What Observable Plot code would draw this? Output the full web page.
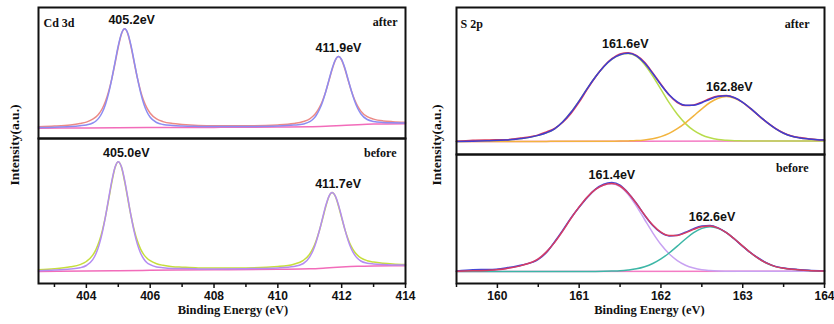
<!DOCTYPE html>
<html>
<head>
<meta charset="utf-8">
<script src="https://cdn.jsdelivr.net/npm/d3@7"></script>
<script src="https://cdn.jsdelivr.net/npm/@observablehq/plot@0.6"></script>
<style>
  body { margin: 0; background: #fff; }
  #chart { position: relative; width: 834px; height: 324px; overflow: hidden; background: #fff; }
  #chart svg { position: absolute; overflow: visible; }
  .ytitle {
    position: absolute; white-space: nowrap; color: #111;
    font: bold 13.5px "Liberation Serif", "Times New Roman", serif;
    transform: translate(-50%, -50%) rotate(-90deg);
  }
</style>
</head>
<body>
<div id="chart"></div>
<script>
// ---- Cd 3d spectra (binding energy in eV, intensity in a.u.) ----
const cdEnergy = [402.5, 403.0, 403.5, 403.8, 404.0, 404.2, 404.3, 404.4, 404.5, 404.6, 404.7, 404.8, 404.9,
  405.0, 405.1, 405.2, 405.3, 405.4, 405.5, 405.6, 405.7, 405.8, 405.9, 406.0, 406.2, 406.4, 406.7, 407.0,
  407.5, 408.0, 409.0, 410.0, 410.5, 410.8, 411.0, 411.1, 411.2, 411.3, 411.4, 411.5, 411.6, 411.7, 411.8,
  411.9, 412.0, 412.1, 412.2, 412.3, 412.4, 412.5, 412.6, 412.8, 413.0, 413.3, 413.6, 414.0];
const cdAfterRaw = [11.7, 12.4, 13.6, 15.0, 16.4, 19.3, 21.6, 25.0, 30.0, 37.2, 47.3, 60.2, 75.5, 91.5, 104.6,
  109.7, 104.6, 91.6, 75.6, 60.3, 47.4, 37.4, 30.3, 25.3, 19.6, 16.9, 15.0, 14.1, 13.1, 12.7, 12.7, 13.6,
  15.0, 17.0, 19.7, 22.2, 25.7, 30.8, 37.8, 46.8, 57.7, 68.9, 78.2, 81.9, 78.4, 69.5, 58.5, 48.0, 39.2,
  32.4, 27.4, 21.8, 19.4, 17.6, 16.8, 16.3];
const cdAfterFit = [11.0, 11.3, 12.0, 12.8, 13.6, 15.5, 17.5, 20.9, 26.2, 34.3, 45.6, 60.2, 76.6, 92.8, 105.0,
  109.7, 105.1, 92.9, 76.7, 60.3, 45.9, 34.5, 26.5, 21.2, 16.0, 14.0, 13.0, 12.5, 12.1, 11.9, 12.0, 12.5,
  13.4, 14.6, 16.8, 19.2, 23.0, 28.7, 36.6, 46.8, 58.4, 69.8, 78.5, 81.9, 78.8, 70.4, 59.3, 48.0, 38.1,
  30.3, 24.8, 19.0, 17.1, 16.1, 15.7, 15.5];
const cdBeforeRaw = [13.7, 14.7, 16.7, 18.9, 22.0, 28.3, 33.9, 41.9, 52.9, 67.1, 84.1, 101.6, 116.1, 121.8,
  116.2, 101.8, 84.3, 67.5, 53.3, 42.4, 34.4, 28.9, 25.3, 22.8, 19.8, 18.2, 16.8, 16.3, 15.6, 15.4, 15.6,
  17.0, 19.3, 23.2, 29.5, 35.1, 42.8, 52.7, 64.5, 76.7, 86.8, 90.9, 87.2, 77.5, 65.6, 54.1, 44.5, 37.1,
  31.8, 28.1, 25.6, 22.8, 21.4, 20.2, 19.5, 19.0];
const cdBeforeFit = [12.8, 13.4, 14.5, 15.7, 18.0, 23.8, 29.7, 38.6, 51.2, 67.1, 85.3, 103.1, 116.6, 121.8,
  116.7, 103.2, 85.5, 67.5, 51.6, 39.1, 30.3, 24.5, 20.8, 18.8, 16.6, 15.8, 15.1, 14.9, 14.6, 14.5, 14.8,
  15.6, 16.9, 20.0, 26.7, 32.8, 41.6, 52.7, 65.3, 77.7, 87.2, 90.9, 87.6, 78.5, 66.5, 54.1, 43.3, 34.8,
  28.9, 25.0, 22.5, 20.3, 19.5, 18.9, 18.6, 18.4];
const cdBgEnergy = [402.5, 404, 405, 406, 408, 410, 411, 411.5, 412, 412.5, 413, 414];
const cdAfterBg = [10.3, 10.5, 10.7, 10.9, 11.1, 11.4, 11.8, 12.2, 13.0, 13.8, 14.4, 14.8];
const cdBeforeBg = [12.0, 12.4, 12.8, 13.2, 13.7, 14.2, 14.7, 15.5, 16.5, 17.2, 17.5, 17.7];
const cdAfterPeaks = [405.2, 411.9];
const cdBeforePeaks = [405.0, 411.7];

// ---- S 2p spectra ----
const sEnergy = [159.5, 159.7, 159.9, 160.1, 160.3, 160.5, 160.6, 160.7, 160.8, 160.9, 161.0, 161.1, 161.2,
  161.3, 161.4, 161.5, 161.6, 161.7, 161.8, 161.9, 162.0, 162.1, 162.2, 162.3, 162.4, 162.5, 162.6, 162.7,
  162.8, 162.9, 163.0, 163.1, 163.2, 163.3, 163.4, 163.5, 163.6, 163.7, 163.8, 164.0];
const sAfterRaw = [13.2, 14.3, 14.6, 14.8, 16.6, 19.6, 22.6, 26.0, 32.2, 41.0, 52.3, 65.4, 77.5, 88.0, 95.8,
  100.6, 101.8, 99.2, 92.3, 81.6, 70.3, 59.5, 52.0, 49.0, 49.6, 52.4, 56.1, 58.5, 59.1, 56.9, 52.0, 45.5,
  38.4, 31.9, 26.2, 21.6, 18.5, 16.9, 15.8, 14.5];
const sAfterFit = [13.1, 13.3, 13.8, 14.4, 15.9, 19.1, 21.7, 25.7, 32.7, 42.2, 53.7, 66.2, 77.7, 87.7, 95.3,
  99.7, 101.2, 98.7, 91.4, 81.0, 69.7, 59.7, 52.6, 49.2, 49.3, 51.8, 55.3, 57.9, 58.7, 56.7, 52.2, 45.8,
  38.7, 31.8, 25.9, 21.3, 18.2, 16.6, 15.6, 14.4];
const sAfterPeak1 = [13.1, 13.3, 13.8, 14.4, 15.9, 19.1, 21.6, 25.7, 32.7, 42.2, 53.7, 66.2, 77.7, 87.7, 95.3,
  99.6, 100.9, 98.1, 90.1, 78.5, 65.1, 51.8, 40.2, 30.9, 24.1, 19.5, 16.7, 15.0, 14.2, 13.7, 13.6, 13.5,
  13.5, 13.5, 13.5, 13.5, 13.6, 13.6, 13.6, 13.6];
const sAfterPeak2 = [13.0, 13.0, 13.1, 13.1, 13.1, 13.1, 13.1, 13.2, 13.2, 13.2, 13.2, 13.2, 13.2, 13.2, 13.3,
  13.4, 13.6, 13.9, 14.6, 15.8, 17.9, 21.1, 25.8, 31.7, 38.6, 45.7, 52.0, 56.3, 57.9, 56.3, 52.1, 45.8,
  38.7, 31.8, 25.9, 21.3, 18.2, 16.6, 15.6, 14.4];
const sBeforeRaw = [12.4, 13.8, 14.0, 15.6, 18.5, 24.0, 31.0, 41.8, 53.4, 65.6, 76.2, 86.0, 94.4, 99.3, 100.9,
  98.3, 90.6, 80.2, 68.3, 58.0, 50.8, 47.6, 48.3, 51.2, 54.9, 57.4, 58.0, 55.6, 50.8, 44.3, 37.2, 30.6,
  25.0, 20.4, 17.1, 15.4, 14.4, 13.7, 13.2, 12.7];
const sBeforeFit = [12.3, 12.7, 13.3, 14.8, 18.1, 24.6, 31.6, 41.1, 52.6, 65.1, 76.6, 86.6, 94.1, 98.5, 100.0,
  97.5, 90.2, 79.9, 68.6, 58.5, 51.4, 48.0, 48.1, 50.6, 54.1, 56.7, 57.5, 55.4, 50.9, 44.5, 37.4, 30.5,
  24.7, 20.1, 16.9, 15.3, 14.3, 13.6, 13.1, 12.6];
const sBeforePeak1 = [12.3, 12.7, 13.3, 14.8, 18.1, 24.6, 31.6, 41.1, 52.6, 65.1, 76.6, 86.6, 94.1, 98.4, 99.7,
  96.9, 89.0, 77.4, 64.0, 50.7, 39.0, 29.7, 22.9, 18.3, 15.5, 13.8, 13.0, 12.5, 12.3, 12.2, 12.2, 12.2,
  12.2, 12.3, 12.3, 12.3, 12.3, 12.3, 12.3, 12.3];
const sBeforePeak2 = [12.0, 12.0, 12.0, 12.0, 12.0, 12.1, 12.1, 12.1, 12.1, 12.1, 12.1, 12.1, 12.1, 12.2, 12.4,
  12.7, 13.5, 14.7, 16.8, 20.0, 24.6, 30.5, 37.4, 44.5, 50.8, 55.1, 56.7, 55.1, 50.8, 44.5, 37.4, 30.5,
  24.6, 20.0, 16.9, 15.3, 14.3, 13.6, 13.1, 12.6];
const sBgEnergy = [159.5, 164.0];
const sAfterBg = [13.0, 13.6];
const sBeforeBg = [12.0, 12.3];
const sAfterPeaks = [161.6, 162.8];
const sBeforePeaks = [161.4, 162.6];

// ---- axis ticks ----
const cdMajorTicks = [404, 406, 408, 410, 412, 414];
const cdMinorTicks = [403, 405, 407, 409, 411, 413];
const sMajorTicks = [160, 161, 162, 163, 164];
const sMinorTicks = [159.5, 160.5, 161.5, 162.5, 163.5];

const SANS = "'Liberation Sans', Arial, Helvetica, sans-serif";
const SERIF = "'Liberation Serif', 'Times New Roman', serif";
const PAD = 2;
const chart = document.getElementById("chart");

function subplot(o) {
  const marginBottom = o.axis ? 44 : PAD;
  const marks = [];
  for (const c of o.curves) {
    marks.push(Plot.line(c.y, {x: c.x, y: c.y, stroke: c.color, strokeWidth: 1.5, curve: "monotone-x"}));
  }
  const fit = o.curves.find((c) => c.fit);
  o.peaks.forEach((e, i) => {
    const v = fit.y[fit.x.indexOf(e)];
    marks.push(Plot.text([{e, v}], {
      x: "e", y: "v", text: (d) => `${d.e.toFixed(1)}eV`,
      dx: o.labelDx[i], dy: -9, lineAnchor: "middle", textAnchor: "middle",
      fontFamily: SANS, fontSize: 12.5, fontWeight: "bold"
    }));
  });
  if (o.tag) {
    marks.push(Plot.text([o.tag], {text: (d) => d, frameAnchor: "top-left", textAnchor: "start",
      lineAnchor: "middle", dx: o.tagDx, dy: o.tagDy, fontFamily: SERIF, fontSize: 12, fontWeight: "bold"}));
  }
  marks.push(Plot.text([o.state], {text: (d) => d, frameAnchor: "top-right", textAnchor: "end",
    lineAnchor: "middle", dx: o.stateDx, dy: o.stateDy, fontFamily: SERIF, fontSize: 12, fontWeight: "bold"}));
  if (o.axis) {
    marks.push(Plot.axisX({ticks: o.axis.minor, tickSize: 4, strokeWidth: 1.5, tickFormat: () => "", label: null}));
    marks.push(Plot.axisX({ticks: o.axis.major, tickSize: 5, tickPadding: 3, strokeWidth: 1.5,
      tickFormat: (d) => String(d), label: null, fontFamily: SANS, fontSize: 12, fontWeight: "bold"}));
    marks.push(Plot.text(["Binding Energy (eV)"], {text: (d) => d, frameAnchor: "bottom", dy: 30,
      dx: o.axis.titleDx, fontFamily: SERIF, fontSize: 12.5, fontWeight: "bold"}));
  }
  marks.push(Plot.frame({stroke: "#111", strokeWidth: 2}));

  const svg = Plot.plot({
    width: o.width + 2 * PAD,
    height: o.height + PAD + marginBottom,
    marginLeft: PAD, marginRight: PAD, marginTop: PAD, marginBottom,
    x: o.axis ? {domain: o.xDomain} : {domain: o.xDomain, axis: null},
    y: {domain: [0, o.yMax], axis: null},
    style: {fontFamily: SANS, fontSize: "12px", fontWeight: "bold", color: "#111", background: "transparent", overflow: "visible"},
    marks
  });
  svg.style.left = `${o.left - PAD}px`;
  svg.style.top = `${o.top - PAD}px`;
  chart.appendChild(svg);
}

const cdDomain = [402.5, 414];
const sDomain = [159.5, 164];

// Cd 3d, after
subplot({
  left: 38, top: 7, width: 367, height: 131, xDomain: cdDomain, yMax: 131,
  curves: [
    {x: cdBgEnergy, y: cdAfterBg, color: "#f26cba"},
    {x: cdEnergy, y: cdAfterRaw, color: "#ec8a86"},
    {x: cdEnergy, y: cdAfterFit, color: "#8c8cf2", fit: true}
  ],
  peaks: cdAfterPeaks, labelDx: [7, 0],
  tag: "Cd 3d", tagDx: 5, tagDy: 16, state: "after", stateDx: -8, stateDy: 15
});
// Cd 3d, before
subplot({
  left: 38, top: 138, width: 367, height: 145, xDomain: cdDomain, yMax: 145,
  curves: [
    {x: cdBgEnergy, y: cdBeforeBg, color: "#f26cba"},
    {x: cdEnergy, y: cdBeforeRaw, color: "#c6de3c"},
    {x: cdEnergy, y: cdBeforeFit, color: "#b48cf2", fit: true}
  ],
  peaks: cdBeforePeaks, labelDx: [8, 6],
  state: "before", stateDx: -9, stateDy: 15,
  axis: {major: cdMajorTicks, minor: cdMinorTicks, titleDx: 11}
});
// S 2p, after
subplot({
  left: 456, top: 7, width: 368, height: 147, xDomain: sDomain, yMax: 147,
  curves: [
    {x: sBgEnergy, y: sAfterBg, color: "#f47cc4"},
    {x: sEnergy, y: sAfterPeak1, color: "#b8dc4c"},
    {x: sEnergy, y: sAfterPeak2, color: "#f2b43e"},
    {x: sEnergy, y: sAfterRaw, color: "#d93c5e"},
    {x: sEnergy, y: sAfterFit, color: "#3e3ed2", fit: true}
  ],
  peaks: sAfterPeaks, labelDx: [-3, 3],
  tag: "S 2p", tagDx: 4, tagDy: 17, state: "after", stateDx: -15, stateDy: 17
});
// S 2p, before
subplot({
  left: 456, top: 154, width: 368, height: 129, xDomain: sDomain, yMax: 129,
  curves: [
    {x: sBgEnergy, y: sBeforeBg, color: "#f47cc4"},
    {x: sEnergy, y: sBeforePeak1, color: "#c8a2f2"},
    {x: sEnergy, y: sBeforePeak2, color: "#3cb6a6"},
    {x: sEnergy, y: sBeforeRaw, color: "#4646d6"},
    {x: sEnergy, y: sBeforeFit, color: "#d83c60", fit: true}
  ],
  peaks: sBeforePeaks, labelDx: [0, 2],
  state: "before", stateDx: -16, stateDy: 14,
  axis: {major: sMajorTicks, minor: sMinorTicks, titleDx: 9}
});

// vertical intensity titles
for (const cx of [15, 437]) {
  const t = document.createElement("div");
  t.className = "ytitle";
  t.textContent = "Intensity(a.u.)";
  t.style.left = `${cx}px`;
  t.style.top = "145px";
  chart.appendChild(t);
}
</script>
</body>
</html>
